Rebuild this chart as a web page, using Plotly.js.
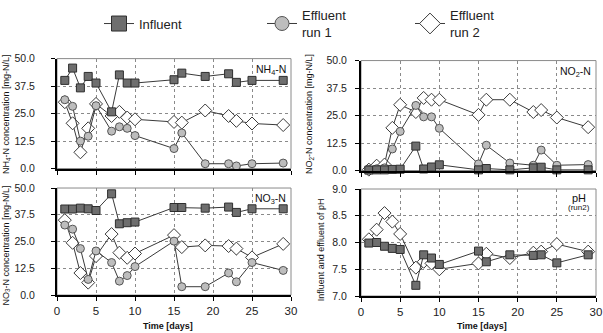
<!DOCTYPE html>
<html>
<head>
<meta charset="utf-8">
<script src="https://cdn.plot.ly/plotly-3.0.1.min.js"></script>
<style>html,body{margin:0;padding:0;background:#fff;}#chart{width:603px;height:333px;}</style>
</head>
<body>
<div id="chart"></div>
<script>
// ---- data ----
const days = [1, 2, 3, 4, 5, 7, 8, 9, 10, 15, 16, 19, 22, 23, 25, 29];

const nh4Influent = [40.1, 45.7, 36.7, 41.9, 38.9, 25.8, 42.6, 38.9, 38.9, 40.4, 43.4, 41.9, 43.1, 39.2, 40.1, 40.1];
const nh4Run1     = [31.3, 28.3, 12.5, 14.7, 28.6, 17.0, 19.0, 18.3, 15.0, 9.1, 16.2, 2.2, 2.2, 1.2, 2.2, 2.5];
const nh4Run2     = [30.2, 20.6, 7.4, 18.3, 29.4, 23.9, 25.8, 23.2, 22.4, 21.2, 20.9, 26.4, 23.9, 21.7, 20.5, 19.8];

const no2Influent = [0.2, 0.3, 0.3, 0.5, 0.6, 11.1, 0.7, 1.6, 2.6, 0.3, 0.9, 0.3, 1.2, 1.5, 0.3, 0.3];
const no2Run1     = [0.5, 0.8, 1.2, 9.8, 17.8, 29.6, 24.4, 24.4, 19.2, 3.0, 11.5, 3.4, 2.4, 9.3, 2.4, 2.7];
const no2Run2     = [0.4, 2.2, 2.7, 19.4, 29.9, 26.6, 33.0, 32.2, 32.2, 25.3, 32.2, 32.2, 26.6, 27.5, 24.1, 19.7];

const no3Influent = [40.2, 40.2, 40.6, 40.3, 39.5, 47.3, 33.3, 33.8, 34.1, 40.9, 40.9, 40.6, 41.1, 38.6, 40.3, 40.3];
const no3Run1     = [32.7, 30.8, 21.7, 7.3, 20.6, 15.2, 6.5, 9.1, 13.3, 25.2, 3.9, 3.9, 10.3, 6.2, 15.2, 11.5];
const no3Run2     = [35.0, 24.4, 10.3, 5.8, 18.2, 28.5, 19.8, 17.4, 19.4, 28.0, 22.4, 23.2, 22.9, 21.7, 17.6, 23.9];

const phInfluent  = [7.99, 8.00, 7.93, 7.89, 7.87, 7.20, 7.77, 7.71, 7.59, 7.84, 7.64, 7.77, 7.76, 7.77, 7.62, 7.77];
const phRun2      = [8.06, 8.24, 8.55, 8.39, 8.16, 7.53, 7.64, 7.61, 7.50, 7.61, 7.79, 7.71, 7.81, 7.83, 7.97, 7.83];

const seriesNames = ['Influent', 'Effluent<br>run 1', 'Effluent<br>run 2'];
const concTicks = [0, 12.5, 25, 37.5, 50];
const phTicks = [7.0, 7.5, 8.0, 8.5, 9.0];
const timeTicks = [0, 5, 10, 15, 20, 25, 30];

// ---- styles ----
const FONT = 'Liberation Sans, Arial, sans-serif';
const LINE = {color: '#3a3a3a', width: 1};
const styles = {
  inf:  {symbol: 'square',  size: 8,  color: '#6e6e6e', line: {color: '#2e2e2e', width: 1}},
  run1: {symbol: 'circle',  size: 8,  color: '#bdbdbd', line: {color: '#555555', width: 1}},
  run2: {symbol: 'diamond', size: 10, color: '#ffffff', line: {color: '#3a3a3a', width: 1}}
};

function tr(y, st, xa, ya) {
  return {x: days, y: y, xaxis: xa, yaxis: ya, mode: 'lines+markers', type: 'scatter',
          line: LINE, marker: styles[st], showlegend: false, cliponaxis: false, hoverinfo: 'skip'};
}

const data = [
  tr(nh4Run2, 'run2', 'x', 'y'), tr(nh4Run1, 'run1', 'x', 'y'), tr(nh4Influent, 'inf', 'x', 'y'),
  tr(no2Run2, 'run2', 'x2', 'y2'), tr(no2Run1, 'run1', 'x2', 'y2'), tr(no2Influent, 'inf', 'x2', 'y2'),
  tr(no3Run2, 'run2', 'x3', 'y3'), tr(no3Run1, 'run1', 'x3', 'y3'), tr(no3Influent, 'inf', 'x3', 'y3'),
  tr(phRun2, 'run2', 'x4', 'y4'), tr(phInfluent, 'inf', 'x4', 'y4')
];

// legend-only entries (no plotted marks)
const legKeys = ['inf', 'run1', 'run2'];
const legSizes = [15, 14, 16];
legKeys.forEach(function (k, i) {
  data.push({x: [null], y: [null], xaxis: 'x', yaxis: 'y', mode: 'lines+markers', type: 'scatter',
    name: seriesNames[i], line: LINE,
    marker: Object.assign({}, styles[k], {size: legSizes[i]}),
    showlegend: true, legend: i === 0 ? 'legend' : 'legend' + (i + 1)});
});

const W = 603, H = 333;
function px(a, b) { return [a / W, b / W]; }
function py(top, bottom) { return [1 - bottom / H, 1 - top / H]; }

function xax(dom, anchor, labels) {
  return {domain: dom, anchor: anchor, range: [0, 30], tickvals: timeTicks, showticklabels: labels,
    ticks: 'outside', ticklen: 4, tickwidth: 1, tickcolor: '#000',
    showline: true, linecolor: '#000', linewidth: 2,
    showgrid: true, gridcolor: '#8a8a8a', griddash: 'dot', gridwidth: 1, zeroline: false,
    tickfont: {family: FONT, size: 11.5, color: '#222'}, fixedrange: true};
}
function yax(dom, anchor, range, ticks, fmt, standoff) {
  return {domain: dom, anchor: anchor, range: range, tickvals: ticks, tickformat: fmt,
    ticks: 'outside', ticklen: 4, tickwidth: 1, tickcolor: '#000', ticklabelstandoff: standoff,
    showline: true, linecolor: '#000', linewidth: 2,
    showgrid: true, gridcolor: '#8a8a8a', griddash: 'dot', gridwidth: 1, zeroline: false,
    tickfont: {family: FONT, size: 10.5, color: '#222'}, fixedrange: true};
}

const dxL = px(57, 291), dxR = px(361, 596);

function border(xa, ya) {
  return {type: 'rect', xref: xa + ' domain', yref: ya + ' domain', x0: 0, x1: 1, y0: 0, y1: 1,
    line: {color: '#8a8a8a', width: 1}, layer: 'below'};
}

function ann(text, x, y, size, opts) {
  return Object.assign({text: text, xref: 'paper', yref: 'paper', x: x / W, y: 1 - y / H,
    xanchor: 'center', yanchor: 'middle',
    showarrow: false, font: {family: FONT, size: size, color: '#111'}}, opts || {});
}

const legBase = {orientation: 'h', yanchor: 'middle', xanchor: 'left', bgcolor: 'rgba(0,0,0,0)',
  font: {family: FONT, size: 13, color: '#222'}, borderwidth: 0, itemclick: false, itemdoubleclick: false};

const layout = {
  width: W, height: H, margin: {l: 0, r: 0, t: 0, b: 0},
  paper_bgcolor: '#fff', plot_bgcolor: '#fff',
  xaxis: xax(dxL, 'y', false),
  yaxis: yax(py(51, 164), 'x', [0, 50], concTicks, '.1f', 14),
  xaxis2: xax(dxR, 'y2', false),
  yaxis2: yax(py(53, 166), 'x2', [0, 50], concTicks, '.1f', 6),
  xaxis3: xax(dxL, 'y3', true),
  yaxis3: yax(py(184, 294), 'x3', [0, 50], concTicks, '.1f', 14),
  xaxis4: xax(dxR, 'y4', true),
  yaxis4: yax(py(185, 295), 'x4', [7, 9], phTicks, '.1f', 6),
  shapes: [border('x', 'y'), border('x2', 'y2'), border('x3', 'y3'), border('x4', 'y4')],
  annotations: [
    ann('NH<sub>4</sub>-N', 288, 63, 10.5, {xanchor: 'right'}),
    ann('NO<sub>2</sub>-N', 593, 65, 10.5, {xanchor: 'right'}),
    ann('NO<sub>3</sub>-N', 288, 195, 10.5, {xanchor: 'right'}),
    ann('pH', 579, 194, 11),
    ann('(run2)', 579, 204, 8),
    ann('NH<sub>4</sub>-N concentration [mg-N/L]', 6, 108, 9, {textangle: -90}),
    ann('NO<sub>2</sub>-N concentration [mg-N/L]', 309, 108, 9, {textangle: -90}),
    ann('NO<sub>3</sub>-N concentration [mg-N/L]', 6, 243, 9, {textangle: -90}),
    ann('Influent and effluent of pH', 321, 248, 9, {textangle: -90}),
    ann('<b>Time [days]</b>', 168, 326, 9),
    ann('<b>Time [days]</b>', 482, 326, 9)
  ],
  legend:  Object.assign({}, legBase, {x: 99 / W, y: 1 - 15 / H}),
  legend2: Object.assign({}, legBase, {x: 262 / W, y: 1 - 15 / H}),
  legend3: Object.assign({}, legBase, {x: 410 / W, y: 1 - 15 / H}),
  font: {family: FONT}
};

Plotly.newPlot('chart', data, layout, {staticPlot: true, displayModeBar: false});
</script>
</body>
</html>
